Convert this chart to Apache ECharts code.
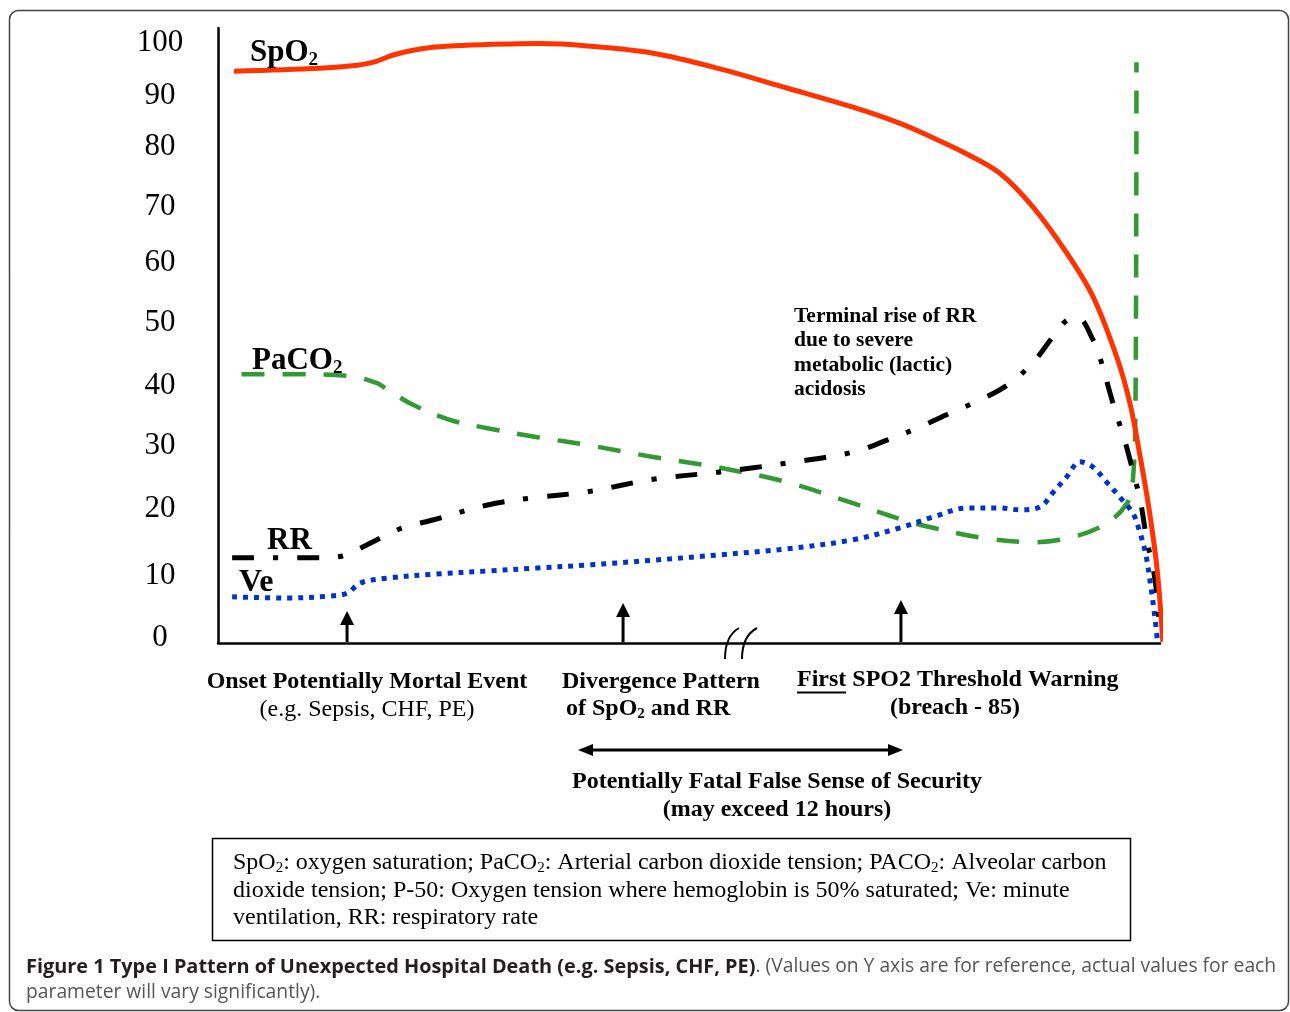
<!DOCTYPE html>
<html><head><meta charset="utf-8">
<script src="https://cdn.jsdelivr.net/npm/echarts@6/dist/echarts.min.js"></script>
<style>html,body{margin:0;padding:0;background:#fff;} #c{width:1290px;height:1012px;}</style>
</head><body><div id="c"></div>
<script>
// ---- data (x: relative time, y: relative value on the drawn scale) ----
const spo2T = [1.7, 10.8, 14.8, 16.5, 18.6, 20.7, 22.8, 26.0, 34.2, 39.2, 46.2, 53.3, 60.4, 67.4, 72.4, 75.9, 79.5, 83.0, 86.5, 90.1, 92.9, 95.4, 96.8, 97.9, 98.9, 99.7, 100.3];
const spo2V = [95.3, 95.8, 96.3, 96.8, 98.0, 98.8, 99.3, 99.6, 99.9, 99.5, 98.3, 95.7, 92.5, 89.3, 86.6, 84.2, 81.5, 78.3, 72.7, 65.0, 57.7, 47.7, 40.0, 31.0, 21.7, 12.2, 0.2];

const pacoT = [2.5, 8.7, 14.0, 16.9, 17.9, 20.7, 24.6, 28.6, 33.9, 39.2, 46.2, 53.3, 60.4, 67.4, 72.7, 75.9, 81.2, 86.5, 90.8, 94.4, 96.5, 97.1, 97.4, 97.5];
const pacoV = [44.8, 44.8, 44.5, 43.3, 42.3, 39.7, 37.2, 35.8, 34.3, 33.0, 31.0, 29.2, 26.8, 23.3, 20.5, 19.2, 17.5, 16.8, 17.7, 20.0, 23.3, 26.7, 40.0, 96.8];

const rrT = [1.5, 10.8, 13.2, 15.1, 17.5, 19.6, 22.8, 28.6, 33.4, 39.2, 46.2, 53.3, 60.4, 67.4, 71.0, 74.5, 77.7, 80.9, 83.8, 86.5, 88.6, 90.1, 91.3, 92.9, 93.6, 95.0, 96.3, 97.1, 97.9, 98.6, 99.3, 99.7, 100.0];
const rrV = [14.2, 14.2, 14.5, 15.8, 17.7, 19.2, 20.5, 23.0, 24.2, 25.2, 27.3, 28.5, 30.0, 31.8, 33.8, 36.0, 38.3, 40.5, 43.0, 46.7, 51.0, 53.8, 54.2, 50.5, 47.7, 40.0, 33.5, 28.8, 23.8, 17.2, 12.2, 7.7, 1.3];

const veT = [1.5, 7.3, 11.6, 13.7, 15.1, 17.9, 23.2, 28.6, 33.9, 39.2, 46.2, 53.3, 60.4, 67.4, 72.4, 75.9, 79.5, 83.0, 85.1, 87.3, 88.6, 90.1, 91.5, 92.9, 94.4, 95.8, 97.1, 97.8, 98.5, 99.0, 99.4, 99.7];
const veV = [7.7, 7.5, 7.8, 8.3, 10.0, 10.8, 11.5, 12.0, 12.5, 13.0, 13.8, 14.7, 15.7, 17.2, 19.2, 21.0, 22.5, 22.5, 22.2, 22.7, 25.0, 27.7, 30.2, 29.3, 26.7, 24.2, 21.7, 18.8, 14.7, 9.7, 5.0, 0.8];

// y tick labels and where each sits on the (hand-drawn, uneven) axis
const yTickLabels = ['0', '10', '20', '30', '40', '50', '60', '70', '80', '90', '100'];
const yTickAt = [0.8, 11.2, 22.3, 32.8, 42.8, 53.3, 63.3, 72.7, 82.7, 91.2, 100.0];

// event arrows on the time axis
const eventT = [13.7, 43.0, 72.5];

const zip = (a, b) => a.map((v, i) => [v, b[i]]);
const SERIF = "'Liberation Serif','Times New Roman',serif";
const SANS = "'Open Sans','Noto Sans',sans-serif";

const chart = echarts.init(document.getElementById('c'), null, {renderer: 'canvas'});

function lineSeries(name, t, v, color, width, dash, z) {
  return {
    name, type: 'line', data: zip(t, v), smooth: 0.35, symbol: 'none', clip: false, z,
    lineStyle: {color, width, type: dash, cap: 'butt', join: 'round'},
    emphasis: {disabled: true}
  };
}

const option = {
  animation: false,
  backgroundColor: '#fff',
  grid: {left: 218, top: 28, width: 942, height: 615},
  xAxis: {
    type: 'value', min: 0, max: 100,
    axisLine: {show: true, lineStyle: {color: '#000', width: 2.5}},
    axisTick: {show: false}, axisLabel: {show: false}, splitLine: {show: false}
  },
  yAxis: {
    type: 'value', min: 0, max: 102.5,
    axisLine: {show: true, lineStyle: {color: '#000', width: 2.5}},
    axisTick: {show: false}, splitLine: {show: false},
    axisLabel: {
      customValues: yTickAt,
      formatter: function (v) {
        let b = 0;
        for (let i = 0; i < yTickAt.length; i++) if (Math.abs(yTickAt[i] - v) < Math.abs(yTickAt[b] - v)) b = i;
        return yTickLabels[b];
      },
      fontFamily: SERIF, fontSize: 31, color: '#000', align: 'center', margin: 58
    }
  },
  series: [
    lineSeries('PaCO2', pacoT, pacoV, '#339933', 4.5, [23, 18], 2),
    lineSeries('Ve', veT, veV, '#0033cc', 5, [5, 6], 3),
    lineSeries('RR', rrT, rrV, '#000000', 5, [22, 19, 5, 19], 4),
    lineSeries('SpO2', spo2T, spo2V, '#ff3300', 5, 'solid', 5)
  ]
};
chart.setOption(option);

// ---------- annotations ----------
const g = [];
function txt(x, y, text, opt) {
  g.push(Object.assign({type: 'text', x, y, silent: true, z: 50, style: Object.assign({
    text, fontFamily: SERIF, fontSize: 24, fontWeight: 'bold', fill: '#000',
    textAlign: 'left', textVerticalAlign: 'middle'
  }, opt || {})}));
}
const subRich = (size, pad, bold) => ({
  n: {fontFamily: SERIF, fontSize: size, fontWeight: bold ? 'bold' : 'normal', fill: '#000'},
  s: {fontFamily: SERIF, fontSize: Math.round(size * 0.62), fontWeight: bold ? 'bold' : 'normal', fill: '#000', padding: [pad, 0, 0, 0]}
});

// outer frame
g.push({type: 'rect', z: 1, silent: true, shape: {x: 9.5, y: 10.5, width: 1279, height: 1000, r: 9},
  style: {fill: 'none', stroke: '#444', lineWidth: 1.5}});

// curve labels
txt(250, 53, '{n|SpO}{s|2}', {rich: subRich(31, 14, true)});
txt(252, 361, '{n|PaCO}{s|2}', {rich: subRich(31, 14, true)});
txt(267, 541, 'RR', {fontSize: 31});
txt(239, 583, 'Ve', {fontSize: 32});

// terminal rise note
['Terminal rise of RR', 'due to severe', 'metabolic (lactic)', 'acidosis'].forEach((s, i) => txt(794, 316 + i * 24.5, s, {fontSize: 21.5}));

// axis break
g.push({type: 'bezierCurve', z: 20, silent: true, shape: {x1: 725, y1: 659, x2: 739, y2: 628, cpx1: 725, cpy1: 636},
  style: {stroke: '#000', lineWidth: 2, fill: 'none'}});
g.push({type: 'bezierCurve', z: 20, silent: true, shape: {x1: 742, y1: 659, x2: 757, y2: 628, cpx1: 742, cpy1: 636},
  style: {stroke: '#000', lineWidth: 2, fill: 'none'}});

// event arrows
const arrowLen = [31, 39, 42];
eventT.forEach((t, i) => {
  const p = chart.convertToPixel({gridIndex: 0}, [t, 0]);
  const x = p[0], y0 = p[1] - 1, tip = y0 - arrowLen[i];
  g.push({type: 'line', z: 20, silent: true, shape: {x1: x, y1: y0, x2: x, y2: tip + 10}, style: {stroke: '#000', lineWidth: 3}});
  g.push({type: 'polygon', z: 20, silent: true, shape: {points: [[x, tip], [x - 7, tip + 14], [x + 7, tip + 14]]}, style: {fill: '#000'}});
});

// bottom labels
txt(367, 682, 'Onset Potentially Mortal Event', {textAlign: 'center'});
txt(367, 710, '(e.g. Sepsis, CHF, PE)', {textAlign: 'center', fontWeight: 'normal'});
txt(562, 682, 'Divergence Pattern');
txt(566, 709, '{n|of SpO}{s|2}{n| and RR}', {rich: subRich(24, 11, true)});
txt(797, 680, 'First SPO2 Threshold Warning');
g.push({type: 'line', z: 20, silent: true, shape: {x1: 797, y1: 692.5, x2: 846, y2: 692.5}, style: {stroke: '#000', lineWidth: 2}});
txt(955, 708, '(breach - 85)', {textAlign: 'center'});

// double arrow
g.push({type: 'line', z: 20, silent: true, shape: {x1: 588, y1: 750, x2: 892, y2: 750}, style: {stroke: '#000', lineWidth: 3}});
g.push({type: 'polygon', z: 20, silent: true, shape: {points: [[578, 750], [593, 744], [593, 756]]}, style: {fill: '#000'}});
g.push({type: 'polygon', z: 20, silent: true, shape: {points: [[903, 750], [888, 744], [888, 756]]}, style: {fill: '#000'}});

txt(777, 782, 'Potentially Fatal False Sense of Security', {textAlign: 'center'});
txt(777, 810, '(may exceed 12 hours)', {textAlign: 'center'});

// abbreviation box
g.push({type: 'rect', z: 20, silent: true, shape: {x: 212.5, y: 838.5, width: 918, height: 102},
  style: {fill: '#fff', stroke: '#000', lineWidth: 1.5}});
const boxRich = subRich(24, 11, false);
txt(233, 863, '{n|SpO}{s|2}{n|: oxygen saturation; PaCO}{s|2}{n|: Arterial carbon dioxide tension; PACO}{s|2}{n|: Alveolar carbon}', {rich: boxRich, fontWeight: 'normal'});
txt(233, 891, 'dioxide tension; P-50: Oxygen tension where hemoglobin is 50% saturated; Ve: minute', {fontSize: 24, fontWeight: 'normal'});
txt(233, 918, 'ventilation, RR: respiratory rate', {fontSize: 24, fontWeight: 'normal'});

// caption
const capRich = {
  b: {fontFamily: SANS, fontSize: 19.9, fontWeight: 'bold', fill: '#231f20'},
  n: {fontFamily: SANS, fontSize: 19.3, fontWeight: 'normal', fill: '#555'}
};
txt(26, 967, '{b|Figure 1 Type I Pattern of Unexpected Hospital Death (e.g. Sepsis, CHF, PE)}{n|. (Values on Y axis are for reference, actual values for each}', {rich: capRich});
txt(26, 993, '{n|parameter will vary significantly).}', {rich: capRich});

chart.setOption({graphic: {elements: g}});
</script>
</body></html>
